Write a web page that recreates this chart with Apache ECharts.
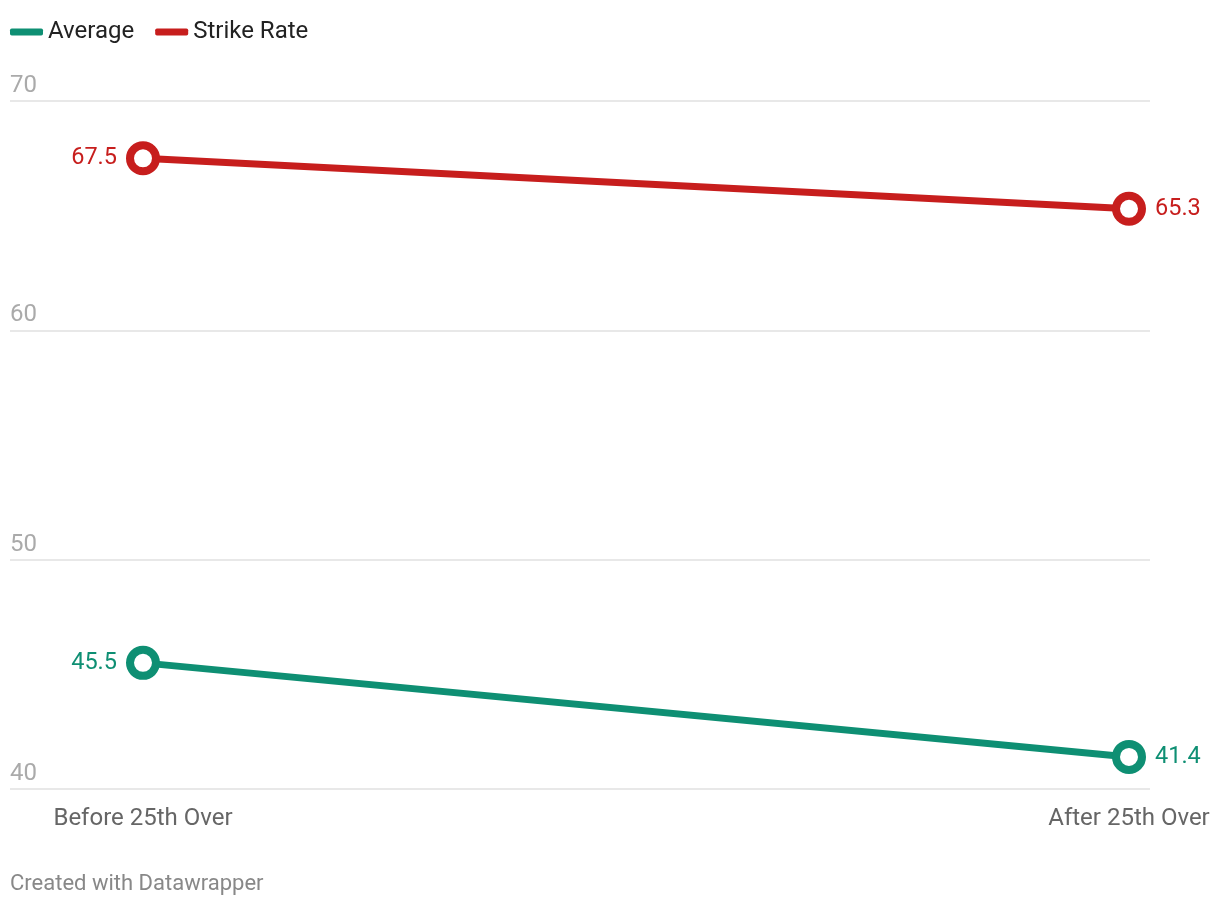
<!DOCTYPE html>
<html><head><meta charset="utf-8">
<script src="https://cdn.jsdelivr.net/npm/echarts@6/dist/echarts.min.js"></script>
<style>html,body{margin:0;padding:0;background:#fff}#c{width:1220px;height:906px}</style>
</head><body><div id="c"></div>
<script>
const categories = ['Before 25th Over', 'After 25th Over'];
const averageValues = [45.5, 41.4];
const strikeRateValues = [67.5, 65.3];
const yTicks = [40, 50, 60, 70];

const FONT = 'Roboto';
const GREEN = '#0e8f73';
const RED = '#c71e1d';

function mkSeries(name, values, color) {
  return {
    name, type: 'line',
    data: values.map((v, i) => ({
      value: [i, v],
      label: { position: i === 0 ? 'left' : 'right' }
    })),
    symbol: 'circle', symbolSize: 26,
    lineStyle: { color, width: 7 },
    itemStyle: { color: '#fff', borderColor: color, borderWidth: 8 },
    color,
    label: {
      show: true, fontFamily: FONT, fontSize: 23.5, color,
      distance: 9,
      formatter: p => p.value[1].toFixed(1)
    },
    emphasis: { disabled: true },
    z: name === 'Average' ? 3 : 2
  };
}

const chart = echarts.init(document.getElementById('c'));
chart.setOption({
  animation: false,
  textStyle: { fontFamily: FONT },
  grid: { left: 10, right: 70, top: 101, bottom: 117, containLabel: false },
  legend: {
    left: 10, top: 20, padding: 0, itemWidth: 33, itemHeight: 7, itemGap: 21,
    icon: 'roundRect',
    textStyle: { fontFamily: FONT, fontSize: 24, color: '#222', padding: [0, 0, 0, 0] },
    data: [{ name: 'Average', itemStyle: { color: GREEN, borderWidth: 0 } },
           { name: 'Strike Rate', itemStyle: { color: RED, borderWidth: 0 } }],
    selectedMode: false
  },
  title: {
    text: 'Created with Datawrapper', left: 10, top: 873,
    textStyle: { fontFamily: FONT, fontSize: 22, fontWeight: 'normal', color: '#888' },
    padding: 0
  },
  xAxis: {
    type: 'value', min: -133 / 986, max: 1 + 21 / 986,
    axisLine: { show: false }, axisTick: { show: false }, splitLine: { show: false },
    axisLabel: {
      customValues: [0, 1], showMinLabel: true, showMaxLabel: true,
      formatter: v => categories[Math.round(v)],
      fontFamily: FONT, fontSize: 24, color: '#666', margin: 18
    }
  },
  yAxis: {
    type: 'value', min: yTicks[0], max: yTicks[yTicks.length - 1], interval: 10,
    axisLine: { show: false }, axisTick: { show: false },
    splitLine: { lineStyle: { color: '#e0e0e0', width: 1.5 } },
    axisLabel: {
      inside: true, margin: 0, verticalAlign: 'bottom', padding: [0, 0, 3, 0],
      fontFamily: FONT, fontSize: 24, color: '#aaa'
    }
  },
  series: [mkSeries('Strike Rate', strikeRateValues, RED), mkSeries('Average', averageValues, GREEN)]
});
</script></body></html>
